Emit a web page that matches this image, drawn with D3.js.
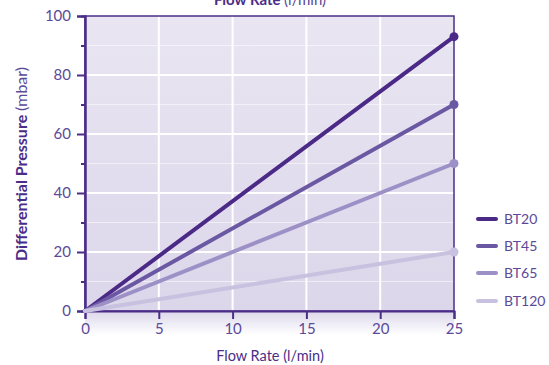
<!DOCTYPE html>
<html><head><meta charset="utf-8">
<script src="https://cdn.jsdelivr.net/npm/d3@7"></script>
<style>body{margin:0;background:#fff}svg{display:block;font-family:Lato,"Noto Sans",sans-serif}</style>
</head><body><svg id="c" width="549" height="365"></svg>
<script>
const flow = [0, 25];
const seriesNames = ["BT20", "BT45", "BT65", "BT120"];
const seriesEnd = [93, 70, 50, 20];
const colors = ["#4b2a87", "#6b58a3", "#9d90c6", "#c8c1df"];
const xTicks = [0, 5, 10, 15, 20, 25];
const yTicks = [0, 20, 40, 60, 80, 100];
const yMinor = [10, 30, 50, 70, 90];

const svg = d3.select("#c");
const L = 85, R = 454, T = 16, B = 311;
const x = d3.scaleLinear().domain([0, 25]).range([L, R]);
const y = d3.scaleLinear().domain([0, 100]).range([B, T]);
const dark = "#4b2d88", txt = "#5b4a98";

const defs = svg.append("defs");
const g1 = defs.append("linearGradient").attr("id", "bg").attr("x1", 0).attr("y1", 0).attr("x2", 0).attr("y2", 1);
g1.append("stop").attr("offset", 0).attr("stop-color", "#e9e6f2");
g1.append("stop").attr("offset", 1).attr("stop-color", "#dcd6ea");
const g2 = defs.append("linearGradient").attr("id", "sh").attr("x1", 0).attr("y1", 0).attr("x2", 0).attr("y2", 1);
g2.append("stop").attr("offset", 0).attr("stop-color", "#dcd7ea");
g2.append("stop").attr("offset", 1).attr("stop-color", "#ffffff");

svg.append("rect").attr("x", L).attr("y", B).attr("width", R - L).attr("height", 24).attr("fill", "url(#sh)");
svg.append("rect").attr("x", L).attr("y", T).attr("width", R - L).attr("height", B - T).attr("fill", "url(#bg)");

// grid
svg.selectAll(".gm").data(yMinor).join("line").attr("x1", L).attr("x2", R)
  .attr("y1", d => y(d)).attr("y2", d => y(d)).attr("stroke", "#fff").attr("stroke-opacity", 0.55).attr("stroke-width", 1.2);
svg.selectAll(".gy").data(yTicks.slice(1, -1)).join("line").attr("x1", L).attr("x2", R)
  .attr("y1", d => y(d)).attr("y2", d => y(d)).attr("stroke", "#fff").attr("stroke-width", 2);
svg.selectAll(".gx").data(xTicks.slice(1, -1)).join("line").attr("y1", T).attr("y2", B)
  .attr("x1", d => x(d)).attr("x2", d => x(d)).attr("stroke", "#fff").attr("stroke-width", 2);

// frame
svg.append("rect").attr("x", L).attr("y", T).attr("width", R - L).attr("height", B - T)
  .attr("fill", "none").attr("stroke", dark).attr("stroke-width", 1.5);

// axes
const yAx = svg.append("g").attr("transform", `translate(${L},0)`)
  .call(d3.axisLeft(y).tickValues(yTicks).tickSize(8).tickPadding(6));
const yAxMin = svg.append("g").attr("transform", `translate(${L},0)`)
  .call(d3.axisLeft(y).tickValues(yMinor).tickSize(4).tickFormat(""));
const xAx = svg.append("g").attr("transform", `translate(0,${B})`)
  .call(d3.axisBottom(x).tickValues(xTicks).tickSize(8).tickPadding(4));
[yAx, yAxMin, xAx].forEach(a => {
  a.select(".domain").attr("stroke", dark).attr("stroke-width", 2);
  a.selectAll(".tick line").attr("stroke", dark).attr("stroke-width", 2);
  a.selectAll(".tick text").attr("fill", txt).attr("font-size", 15).attr("font-family", "Lato,'Noto Sans',sans-serif");
});

// series
const line = d3.line().x(d => x(d[0])).y(d => y(d[1]));
seriesNames.forEach((n, i) => {
  const pts = flow.map(f => [f, seriesEnd[i] * f / 25]);
  svg.append("path").datum(pts).attr("d", line).attr("fill", "none")
    .attr("stroke", colors[i]).attr("stroke-width", 4).attr("stroke-linecap", "round");
  svg.append("circle").attr("cx", x(25)).attr("cy", y(seriesEnd[i])).attr("r", 4.5).attr("fill", colors[i]);
});

// legend
const legY = [219, 246, 273, 301];
seriesNames.forEach((n, i) => {
  svg.append("line").attr("x1", 478).attr("x2", 496).attr("y1", legY[i]).attr("y2", legY[i])
    .attr("stroke", colors[i]).attr("stroke-width", 4).attr("stroke-linecap", "round");
  svg.append("text").attr("x", 504).attr("y", legY[i] + 5).attr("fill", txt).attr("font-size", 14).text(n);
});

// titles
const t = svg.append("text").attr("x", 270).attr("y", 5).attr("text-anchor", "middle").attr("fill", dark).attr("font-size", 15);
t.append("tspan").attr("font-weight", "bold").text("Flow Rate ");
t.append("tspan").attr("fill", txt).text("(l/min)");

svg.append("text").attr("x", 270).attr("y", 361).attr("text-anchor", "middle").attr("fill", dark).attr("font-size", 14.5).text("Flow Rate (l/min)");

const yl = svg.append("text").attr("transform", "translate(27,164) rotate(-90)").attr("text-anchor", "middle").attr("fill", dark).attr("font-size", 16);
yl.append("tspan").attr("font-weight", "bold").text("Differential Pressure ");
yl.append("tspan").attr("fill", txt).attr("font-weight", "normal").text("(mbar)");
</script></body></html>
